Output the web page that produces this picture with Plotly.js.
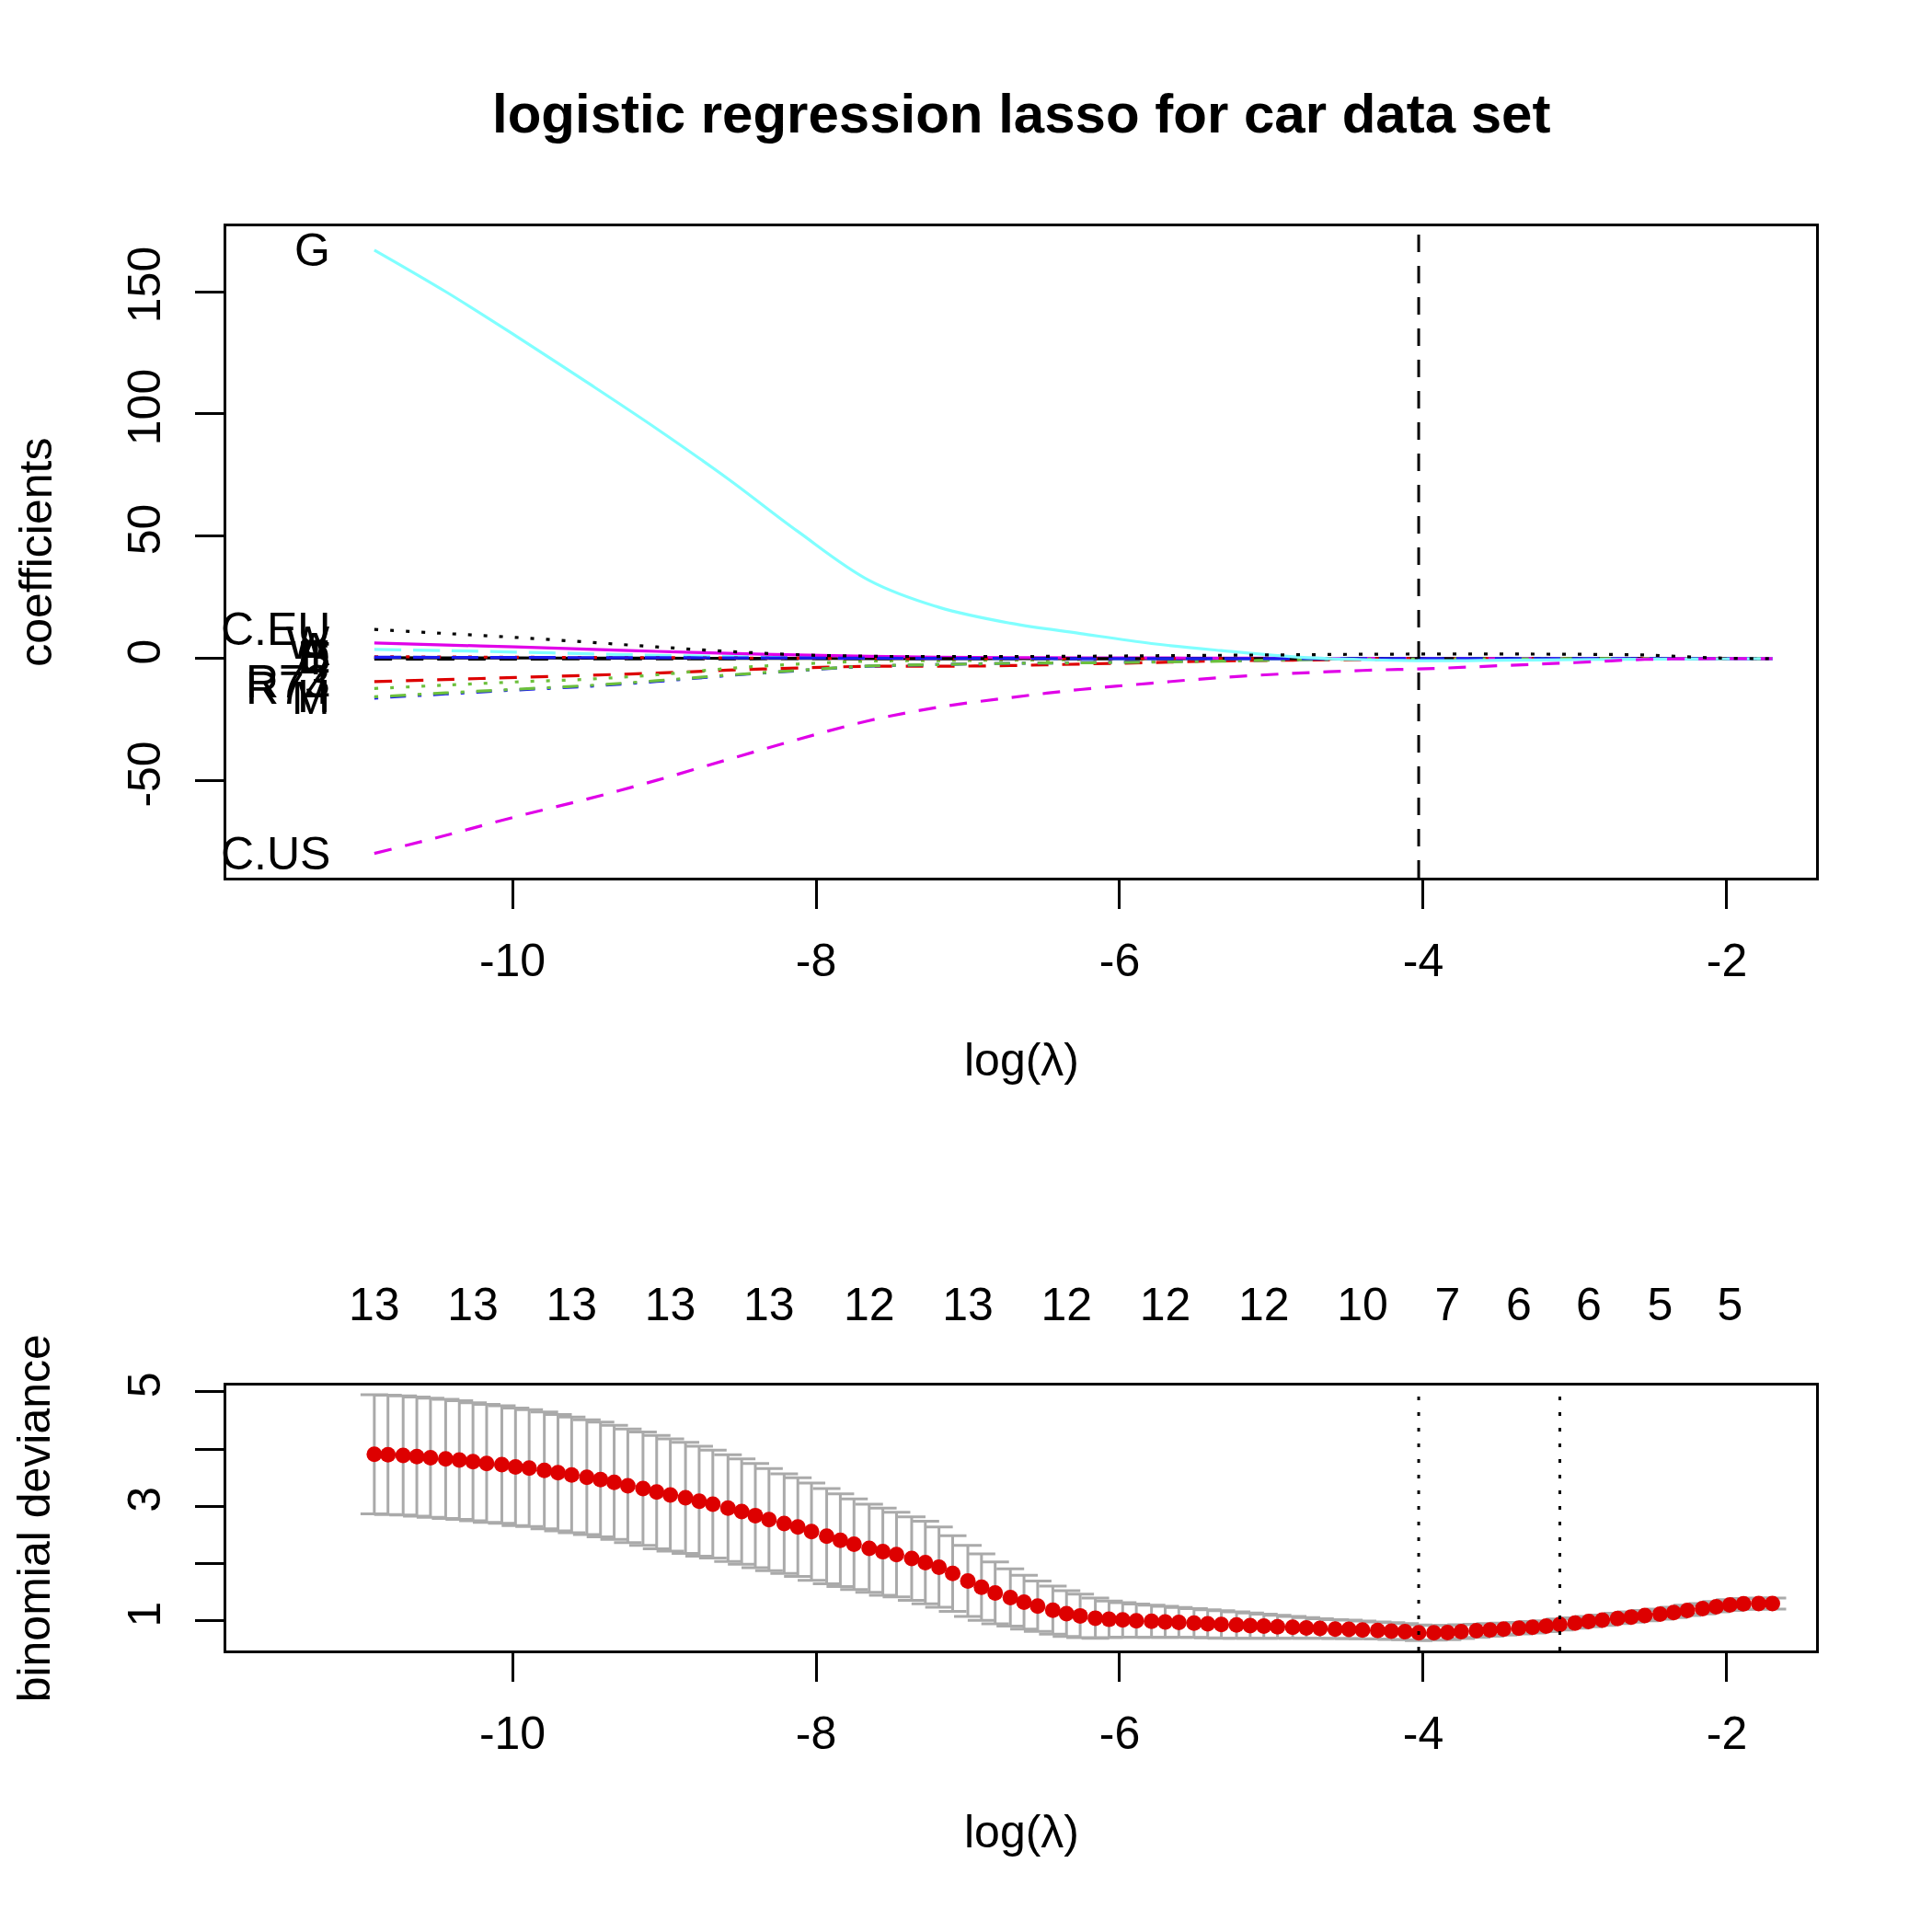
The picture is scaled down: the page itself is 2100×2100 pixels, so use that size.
<!DOCTYPE html>
<html>
<head>
<meta charset="utf-8">
<script src="https://cdn.plot.ly/plotly-3.0.1.min.js"></script>
<style>
  html, body { margin: 0; padding: 0; background: #ffffff; }
  #lasso { width: 2100px; height: 2100px; }
</style>
</head>
<body>
<div id="lasso"></div>
<script>
// log(lambda) grid of the fit (100 values)
const logLambda = [
  -10.91, -10.82, -10.72, -10.63, -10.54, -10.44, -10.35, -10.26, -10.17, -10.07,
  -9.98, -9.89, -9.79, -9.70, -9.61, -9.51, -9.42, -9.33, -9.24, -9.14,
  -9.05, -8.96, -8.86, -8.77, -8.68, -8.58, -8.49, -8.40, -8.31, -8.21,
  -8.12, -8.03, -7.93, -7.84, -7.75, -7.65, -7.56, -7.47, -7.37, -7.28,
  -7.19, -7.10, -7.00, -6.91, -6.82, -6.72, -6.63, -6.54, -6.44, -6.35,
  -6.26, -6.16, -6.07, -5.98, -5.89, -5.79, -5.70, -5.61, -5.51, -5.42,
  -5.33, -5.23, -5.14, -5.05, -4.96, -4.86, -4.77, -4.68, -4.58, -4.49,
  -4.40, -4.30, -4.21, -4.12, -4.03, -3.93, -3.84, -3.75, -3.65, -3.56,
  -3.47, -3.37, -3.28, -3.19, -3.10, -3.00, -2.91, -2.82, -2.72, -2.63,
  -2.54, -2.44, -2.35, -2.26, -2.16, -2.07, -1.98, -1.89, -1.79, -1.70
];

// cross-validated binomial deviance and its standard error
const cvMean = [
  3.91, 3.90, 3.89, 3.87, 3.85, 3.83, 3.81, 3.78, 3.75, 3.73,
  3.69, 3.67, 3.63, 3.59, 3.55, 3.51, 3.47, 3.42, 3.36, 3.31,
  3.25, 3.20, 3.15, 3.09, 3.04, 2.97, 2.91, 2.84, 2.77, 2.70,
  2.64, 2.56, 2.48, 2.41, 2.34, 2.27, 2.21, 2.16, 2.09, 2.02,
  1.94, 1.83, 1.70, 1.59, 1.49, 1.41, 1.33, 1.26, 1.19, 1.13,
  1.09, 1.05, 1.03, 1.02, 1.005, 0.995, 0.985, 0.975, 0.965, 0.95,
  0.94, 0.93, 0.92, 0.91, 0.90, 0.89, 0.88, 0.87, 0.86, 0.855,
  0.845, 0.835, 0.825, 0.815, 0.795, 0.795, 0.80, 0.815, 0.83, 0.845,
  0.86, 0.875, 0.89, 0.91, 0.94, 0.965, 0.99, 1.015, 1.045, 1.07,
  1.095, 1.12, 1.15, 1.185, 1.215, 1.25, 1.28, 1.30, 1.305, 1.305
];
const cvSd = [
  1.04, 1.04, 1.04, 1.04, 1.04, 1.04, 1.035, 1.03, 1.03, 1.025,
  1.025, 1.02, 1.02, 1.015, 1.01, 1.0, 1.0, 0.995, 0.99, 0.99,
  0.99, 0.98, 0.97, 0.96, 0.94, 0.93, 0.92, 0.91, 0.89, 0.87,
  0.86, 0.85, 0.83, 0.81, 0.79, 0.77, 0.76, 0.74, 0.73, 0.72,
  0.70, 0.66, 0.62, 0.58, 0.54, 0.50, 0.47, 0.44, 0.42, 0.40,
  0.38, 0.35, 0.32, 0.30, 0.29, 0.28, 0.27, 0.26, 0.25, 0.245,
  0.24, 0.23, 0.22, 0.21, 0.20, 0.19, 0.18, 0.17, 0.165, 0.16,
  0.155, 0.15, 0.145, 0.14, 0.135, 0.13, 0.125, 0.12, 0.115, 0.11,
  0.105, 0.10, 0.10, 0.095, 0.095, 0.09, 0.09, 0.09, 0.09, 0.09,
  0.09, 0.09, 0.09, 0.09, 0.09, 0.09, 0.095, 0.095, 0.095, 0.095
];

// number of non-zero coefficients printed above the CV plot
const nzIdx = [0, 7, 14, 21, 28, 35, 42, 49, 56, 63, 70, 76, 81, 86, 91, 96];
const nzCount = [13, 13, 13, 13, 13, 12, 13, 12, 12, 12, 10, 7, 6, 6, 5, 5];

// lambda.min and lambda.1se
const lambdaMinIdx = 74;
const lambda1seIdx = 84;

// coefficient paths, read at every 5th lambda
const pathIdx = [0, 5, 10, 15, 20, 25, 30, 35, 40, 45, 50, 55, 60, 65, 70, 75, 80, 85, 90, 95, 99];
const coefD    = [0.4, 0.35, 0.3, 0.25, 0.2, 0.15, 0.1, 0.05, 0, 0, 0, 0, 0, 0, 0, 0, 0, 0, 0, 0, 0];
const coefR73  = [-9.4, -8.5, -7.7, -6.8, -5.9, -4.7, -3.8, -3.1, -3.1, -2.8, -2.2, -1.6, -0.9, -0.6, -0.4, -0.3, -0.2, -0.15, -0.1, -0.05, 0];
const coefR74  = [-12.2, -10.8, -9.5, -8.4, -6.6, -4.0, -2.2, -1.0, -0.8, -0.6, -0.4, -0.2, -0.1, 0, 0, 0, 0, 0, 0, 0, 0];
const coefM    = [-16.1, -14.4, -12.8, -11.3, -9.3, -6.9, -4.9, -3.1, -2.4, -1.9, -1.6, -1.2, -0.8, -0.4, -0.1, 0, 0, 0, 0, 0, 0];
const coefA    = [3.8, 3.3, 2.7, 2.0, 1.4, 0.9, 0.5, 0.3, 0.2, 0.1, 0, 0, 0, 0, 0, 0, 0, 0, 0, 0, 0];
const coefW    = [6.4, 5.6, 4.8, 3.9, 3.0, 2.2, 1.5, 1.0, 0.6, 0.45, 0.35, 0.3, 0.25, 0.2, 0.15, 0.1, 0.05, 0, 0, 0, 0];
const coefT    = [-0.2, -0.2, -0.15, -0.1, -0.1, -0.05, 0, 0, 0, 0, 0, 0, 0, 0, 0, 0, 0, 0, 0, 0, 0];
const coefE    = [0.8, 0.7, 0.6, 0.5, 0.4, 0.3, 0.2, 0.1, 0.05, 0, 0, 0, 0, 0, 0, 0, 0, 0, 0, 0, 0];
const coefH    = [-15.6, -14.0, -12.5, -11.0, -9.0, -6.7, -4.8, -3.0, -2.4, -1.9, -1.7, -1.4, -1.0, -0.5, -0.2, -0.1, -0.05, 0, 0, 0, 0];
const coefS    = [0.6, 0.55, 0.5, 0.45, 0.4, 0.35, 0.3, 0.2, 0.15, 0.1, 0.05, 0, 0, 0, 0, 0, 0, 0, 0, 0, 0];
const coefG    = [167, 150, 132, 113, 94, 73.5, 52, 32, 21, 14.5, 10.3, 6.2, 3.3, 0.8, -0.4, -0.8, -0.6, -0.4, -0.2, -0.1, 0];
const coefCUS  = [-79.6, -72.2, -64.6, -57.4, -49.7, -41.2, -33.0, -25.3, -19.8, -15.9, -12.6, -10.0, -7.7, -6.0, -4.8, -4.0, -2.8, -1.6, -0.3, 0, 0];
const coefCEU  = [12.0, 10.3, 8.7, 6.8, 4.8, 3.0, 1.6, 1.0, 0.9, 0.9, 1.0, 1.2, 1.4, 1.6, 1.8, 1.9, 1.9, 1.8, 1.5, 0.3, 0];

const xTickVals = [-10, -8, -6, -4, -2];
const xTickText = ['-10', '-8', '-6', '-4', '-2'];
const coefTickVals = [-50, 0, 50, 100, 150];
const coefTickText = ['-50', '0', '50', '100', '150'];
const devTickVals = [1, 2, 3, 4, 5];
const devTickText = ['1', '', '3', '', '5'];

// R style line types
const DASHED = '19px,15px';
const DOTTED = '4px,13px';
const DOTDASH = '4px,13px,17px,13px';
const LONGDASH = '29px,13px';

const FONT = 'Liberation Sans, Arial, sans-serif';
const pathLogLambda = pathIdx.map(i => logLambda[i]);

const series = [
  { name: 'D',    y: coefD,   color: '#000000', dash: 'solid' },
  { name: 'R73',  y: coefR73, color: '#dd0000', dash: DASHED },
  { name: 'R74',  y: coefR74, color: '#6cc03c', dash: DOTTED },
  { name: 'M',    y: coefM,   color: '#1a1aee', dash: DOTDASH },
  { name: 'A',    y: coefA,   color: '#80ffff', dash: LONGDASH },
  { name: 'W',    y: coefW,   color: '#e000e8', dash: 'solid' },
  { name: 'T',    y: coefT,   color: '#000000', dash: DASHED },
  { name: 'E',    y: coefE,   color: '#dd0000', dash: DOTTED },
  { name: 'H',    y: coefH,   color: '#6cc03c', dash: DOTDASH },
  { name: 'S',    y: coefS,   color: '#1a1aee', dash: LONGDASH },
  { name: 'G',    y: coefG,   color: '#80ffff', dash: 'solid' },
  { name: 'C.US', y: coefCUS, color: '#e000e8', dash: DASHED },
  { name: 'C.EU', y: coefCEU, color: '#000000', dash: DOTTED },
];

const traces = series.map(s => ({
  type: 'scatter',
  mode: 'lines',
  x: pathLogLambda,
  y: s.y,
  xaxis: 'x',
  yaxis: 'y',
  line: { color: s.color, width: 3.2, dash: s.dash, shape: 'spline', smoothing: 1 },
  hoverinfo: 'skip',
  showlegend: false,
}));

// CV curve with error bars
traces.push({
  type: 'scatter',
  mode: 'markers',
  x: logLambda,
  y: cvMean,
  xaxis: 'x2',
  yaxis: 'y2',
  marker: { color: '#dd0000', size: 17 },
  error_y: { type: 'data', array: cvSd, visible: true, color: '#aaaaaa', thickness: 3, width: 15 },
  hoverinfo: 'skip',
  showlegend: false,
});

// invisible trace so the top axis of the CV plot is drawn
traces.push({
  type: 'scatter',
  mode: 'markers',
  x: nzIdx.map(i => logLambda[i]),
  y: nzIdx.map(i => cvMean[i]),
  xaxis: 'x3',
  yaxis: 'y2',
  marker: { opacity: 0 },
  hoverinfo: 'skip',
  showlegend: false,
});

const xRange = [-11.885, -1.412];

const baseAxis = {
  showline: true,
  linecolor: '#000000',
  linewidth: 3,
  mirror: true,
  ticks: 'outside',
  ticklen: 31,
  tickwidth: 3,
  tickcolor: '#000000',
  showgrid: false,
  zeroline: false,
  tickfont: { family: FONT, size: 50, color: '#000000' },
  fixedrange: true,
};

// labels at the left end of each path
const labelAnnotations = series.map(s => ({
  x: pathLogLambda[0],
  y: s.y[0],
  xref: 'x',
  yref: 'y',
  text: s.name,
  showarrow: false,
  xanchor: 'right',
  yanchor: 'middle',
  xshift: -46,
  font: { family: FONT, size: 50, color: '#000000' },
}));

const textAnnotations = [
  { text: '<b>logistic regression lasso for car data set</b>', x: 0.5286, y: 0.941, size: 60, angle: 0 },
  { text: 'log(λ)', x: 0.5286, y: 0.4514, size: 50, angle: 0 },
  { text: 'log(λ)', x: 0.5286, y: 0.0519, size: 50, angle: 0 },
  { text: 'coefficients', x: 0.0185, y: 0.7143, size: 50, angle: -90 },
  { text: 'binomial deviance', x: 0.0178, y: 0.2143, size: 50, angle: -90 },
].map(a => ({
  text: a.text,
  x: a.x,
  y: a.y,
  xref: 'paper',
  yref: 'paper',
  xanchor: 'center',
  yanchor: 'middle',
  textangle: a.angle,
  showarrow: false,
  font: { family: FONT, size: a.size, color: '#000000' },
}));

const vline = (xref, yref, idx, dash) => ({
  type: 'line',
  xref: xref,
  yref: yref + ' domain',
  x0: logLambda[idx],
  x1: logLambda[idx],
  y0: 0,
  y1: 1,
  line: { color: '#000000', width: 3, dash: dash },
});

const layout = {
  width: 2100,
  height: 2100,
  margin: { t: 0, l: 0, r: 0, b: 0 },
  paper_bgcolor: '#ffffff',
  plot_bgcolor: '#ffffff',
  showlegend: false,
  font: { family: FONT, color: '#000000' },
  xaxis: Object.assign({}, baseAxis, {
    domain: [0.11714, 0.94],
    range: xRange,
    anchor: 'y',
    tickvals: xTickVals,
    ticktext: xTickText,
    ticklabelstandoff: 13,
  }),
  yaxis: Object.assign({}, baseAxis, {
    domain: [0.54571, 0.88286],
    range: [-89.5, 176.7],
    anchor: 'x',
    tickvals: coefTickVals,
    ticktext: coefTickText,
    tickangle: -90,
    ticklabelstandoff: 18,
  }),
  xaxis2: Object.assign({}, baseAxis, {
    domain: [0.11714, 0.94],
    range: xRange,
    anchor: 'y2',
    tickvals: xTickVals,
    ticktext: xTickText,
    ticklabelstandoff: 13,
  }),
  yaxis2: Object.assign({}, baseAxis, {
    domain: [0.14571, 0.28286],
    range: [0.486, 5.11],
    anchor: 'x2',
    tickvals: devTickVals,
    ticktext: devTickText,
    tickangle: -90,
    ticklabelstandoff: 18,
  }),
  xaxis3: {
    overlaying: 'x2',
    anchor: 'y2',
    side: 'top',
    range: xRange,
    tickvals: nzIdx.map(i => logLambda[i]),
    ticktext: nzCount.map(String),
    ticks: '',
    showline: false,
    showgrid: false,
    zeroline: false,
    tickfont: { family: FONT, size: 50, color: '#000000' },
    ticklabelstandoff: 60,
    fixedrange: true,
  },
  shapes: [
    vline('x', 'y', lambdaMinIdx, DASHED),
    vline('x2', 'y2', lambdaMinIdx, DOTTED),
    vline('x2', 'y2', lambda1seIdx, DOTTED),
  ],
  annotations: labelAnnotations.concat(textAnnotations),
};

Plotly.newPlot('lasso', traces, layout, { displayModeBar: false, staticPlot: true });
</script>
</body>
</html>
